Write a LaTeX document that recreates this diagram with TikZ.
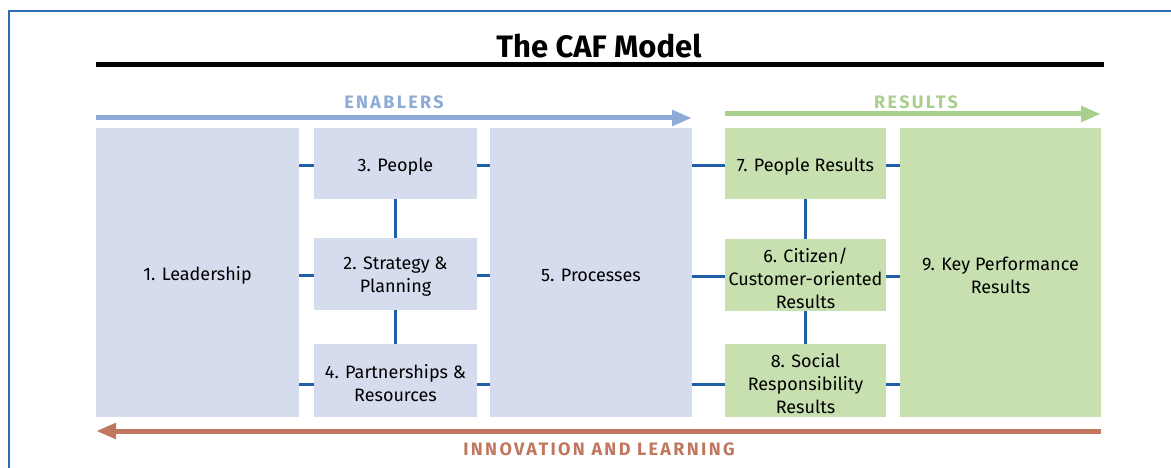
\documentclass[tikz,border=0pt]{standalone}
\usepackage{fontspec}
\setmainfont{Fira Sans}
\newfontfamily\lblfont[LetterSpace=13]{Fira Sans}
\usetikzlibrary{arrows.meta,calc}
\definecolor{enabfill}{HTML}{D5DCEE}
\definecolor{resfill}{HTML}{C8E0B0}
\definecolor{connblue}{HTML}{1F5FA8}
\definecolor{enabarrow}{HTML}{8EAAD6}
\definecolor{resarrow}{HTML}{A9CF8C}
\definecolor{innov}{HTML}{C0775E}
\definecolor{frame}{HTML}{2E6DB4}
\tikzset{
  boxtext/.style={inner sep=0pt, align=center, text=black, yshift=-3pt,
    font=\fontsize{18}{23}\selectfont},
  box/.style={inner sep=0pt, outer sep=0pt, label={[boxtext]center:{#1}}},
  ebox/.style={box=#1, fill=enabfill},
  rbox/.style={box=#1, fill=resfill},
  conn/.style={draw=connblue, line width=3pt},
  bigarrow/.style={line width=5pt, -{Triangle[length=20pt,width=15pt]}},
  lbl/.style={font=\fontsize{18}{20}\selectfont\lblfont\bfseries, inner sep=0pt}
}
\begin{document}
\begin{tikzpicture}[x=1pt,y=-1pt]
\useasboundingbox (0,0) rectangle (1171,468);
% frame
\draw[frame, line width=1.5pt] (9,468) -- (9,11) -- (1171,11);
% title
\node[font=\fontsize{31}{33}\selectfont\bfseries, inner sep=0pt] (title) at (599,46) {The CAF Model};
\draw[line width=5pt] (96,65) -- (1104,65);
% enablers boxes
\node[ebox={1. Leadership}, minimum width=203pt, minimum height=289pt] (lead) at (197.5,272.5) {};
\node[ebox={3. People}, minimum width=163pt, minimum height=71pt] (p3) at (395.5,163.5) {};
\node[ebox={2. Strategy \&\\Planning}, minimum width=163pt, minimum height=72pt] (p2) at (395.5,274) {};
\node[ebox={4. Partnerships \&\\Resources}, minimum width=163pt, minimum height=73pt] (p4) at (395.5,380.5) {};
\node[ebox={5. Processes}, minimum width=202pt, minimum height=289pt] (proc) at (591,272.5) {};
% results boxes
\node[rbox={7. People Results}, minimum width=161pt, minimum height=71pt] (r7) at (805.5,163.5) {};
\node[rbox={6. Citizen/\\Customer-oriented\\Results}, minimum width=161pt, minimum height=72pt] (r6) at (805.5,275) {};
\node[rbox={8. Social\\Responsibility\\Results}, minimum width=161pt, minimum height=73pt] (r8) at (805.5,380.5) {};
\node[rbox={9. Key Performance\\Results}, minimum width=201pt, minimum height=289pt] (r9) at (1000.5,272.5) {};
% connectors enablers
\draw[conn] ([yshift=-2.5pt]lead.east |- p3.west) -- ([yshift=-2.5pt]p3.west);
\draw[conn] ([yshift=-1.5pt]lead.east |- p2.west) -- ([yshift=-1.5pt]p2.west);
\draw[conn] ([yshift=-4pt]lead.east |- p4.west) -- ([yshift=-4pt]p4.west);
\draw[conn] ([yshift=-2.5pt]p3.east) -- ([yshift=-2.5pt]proc.west |- p3.east);
\draw[conn] ([yshift=-1.5pt]p2.east) -- ([yshift=-1.5pt]proc.west |- p2.east);
\draw[conn] ([yshift=-4pt]p4.east) -- ([yshift=-4pt]proc.west |- p4.east);
\draw[conn] (p3.south) -- (p2.north);
\draw[conn] (p2.south) -- (p4.north);
% connectors results
\draw[conn] ([yshift=-2.5pt]proc.east |- r7.west) -- ([yshift=-2.5pt]r7.west);
\draw[conn] ([yshift=-1.5pt]proc.east |- r6.west) -- ([yshift=-1.5pt]r6.west);
\draw[conn] ([yshift=-4pt]proc.east |- r8.west) -- ([yshift=-4pt]r8.west);
\draw[conn] ([yshift=-2.5pt]r7.east) -- ([yshift=-2.5pt]r9.west |- r7.east);
\draw[conn] ([yshift=-1.5pt]r6.east) -- ([yshift=-1.5pt]r9.west |- r6.east);
\draw[conn] ([yshift=-4pt]r8.east) -- ([yshift=-4pt]r9.west |- r8.east);
\draw[conn] (r7.south) -- (r6.north);
\draw[conn] (r6.south) -- (r8.north);
% arrows
\coordinate (enS) at (96,118);
\coordinate (enE) at (692,118);
\draw[bigarrow, enabarrow] (enS) -- (enE);
\node[lbl, text=enabarrow] (enl) at (394,102) {ENABLERS};
\coordinate (reS) at (725,114);
\coordinate (reE) at (1101,114);
\draw[bigarrow, resarrow] (reS) -- (reE);
\node[lbl, text=resarrow] (rel) at (916,102) {RESULTS};
\coordinate (inS) at (1101,431);
\coordinate (inE) at (96,431);
\draw[bigarrow, innov] (inS) -- (inE);
\node[lbl, text=innov] (inl) at (599,449) {INNOVATION AND LEARNING};
\end{tikzpicture}
\end{document}
